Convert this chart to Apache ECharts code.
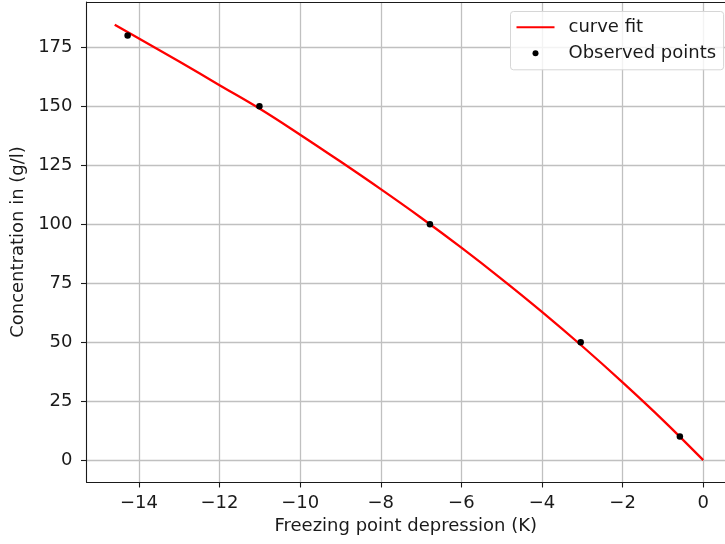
<!DOCTYPE html>
<html>
<head>
<meta charset="utf-8">
<script src="https://cdn.jsdelivr.net/npm/echarts@6/dist/echarts.min.js"></script>
<style>
  html, body { margin: 0; padding: 0; background: #fff; }
  #chart { width: 725px; height: 544px; }
</style>
</head>
<body>
<div id="chart"></div>
<script>
// Fitted curve: freezing point depression (K) vs concentration (g/l)
const fitX = [-14.6, -14, -13, -12, -11, -10, -9, -8, -7, -6, -5, -4, -3, -2, -1, 0];
const fitY = [184.6, 178.8, 169, 159, 149, 138, 126.6, 114.9, 102.8, 90.1, 76.8, 62.9, 48.3, 33, 17, 0];

// Measured samples
const obsX = [-14.28, -11.01, -6.78, -3.04, -0.58];
const obsY = [180, 150, 100, 50, 10];

// Tick positions
const xTicks = [-14, -12, -10, -8, -6, -4, -2, 0];
const yTicks = [0, 25, 50, 75, 100, 125, 150, 175];

const fontFamily = 'DejaVu Sans';
const fontSize = 18;
const textColor = '#1a1a1a';
const gridColor = '#c0c0c0';
const spineColor = '#1a1a1a';

const fmt = v => (v < 0 ? '\u2212' + Math.abs(v) : String(v));

const chart = echarts.init(document.getElementById('chart'), null, { renderer: 'canvas' });

chart.setOption({
  animation: false,
  backgroundColor: '#ffffff',
  textStyle: { fontFamily: fontFamily },
  grid: {
    left: 86.5,
    right: 0,
    top: 2,
    bottom: 62,
    show: false
  },
  legend: {
    orient: 'vertical',
    left: 510.5,
    top: 11.5,
    itemWidth: 38,
    itemHeight: 6,
    itemGap: 8,
    padding: [6.8, 7.5, 7.5, 5],
    backgroundColor: 'rgba(255,255,255,0.8)',
    borderColor: '#d6d6d6',
    borderWidth: 1,
    borderRadius: 3,
    textStyle: {
      fontFamily: fontFamily,
      fontSize: fontSize,
      color: textColor,
      padding: [0, 0, 0, 9]
    },
    data: [
      { name: 'curve fit', itemStyle: { opacity: 0 } },
      { name: 'Observed points', icon: 'circle' }
    ]
  },
  xAxis: [
    {
      type: 'value',
      min: -15.3,
      max: 0.54,
      name: 'Freezing point depression (K)',
      nameLocation: 'middle',
      nameGap: 35,
      nameTextStyle: { fontFamily: fontFamily, fontSize: fontSize, color: textColor },
      axisLine: { show: true, onZero: false, lineStyle: { color: spineColor, width: 1.1 } },
      axisTick: {
        show: true, inside: false, length: 5.5,
        customValues: xTicks,
        lineStyle: { color: spineColor, width: 1.1 }
      },
      axisLabel: {
        customValues: xTicks,
        formatter: fmt,
        margin: 12,
        fontFamily: fontFamily,
        fontSize: fontSize,
        color: textColor
      },
      splitLine: { show: true, lineStyle: { color: gridColor, width: 1.3 } }
    },
    {
      // top spine only
      type: 'value',
      position: 'top',
      min: -15.3,
      max: 0.54,
      axisLine: { show: true, onZero: false, lineStyle: { color: spineColor, width: 1.1 } },
      axisTick: { show: false },
      axisLabel: { show: false },
      splitLine: { show: false }
    }
  ],
  yAxis: {
    type: 'value',
    min: -9.25,
    max: 194.25,
    name: 'Concentration in (g/l)',
    nameLocation: 'middle',
    nameGap: 56,
    nameTextStyle: { fontFamily: fontFamily, fontSize: fontSize, color: textColor },
    axisLine: { show: true, onZero: false, lineStyle: { color: spineColor, width: 1.1 } },
    axisTick: {
      show: true, inside: false, length: 5.5,
      customValues: yTicks,
      lineStyle: { color: spineColor, width: 1.1 }
    },
    axisLabel: {
      customValues: yTicks,
      formatter: fmt,
      margin: 14,
      fontFamily: fontFamily,
      fontSize: fontSize,
      color: textColor
    },
    splitLine: { show: true, lineStyle: { color: gridColor, width: 1.3 } }
  },
  series: [
    {
      name: 'curve fit',
      type: 'line',
      xAxisIndex: 0,
      data: fitX.map((x, i) => [x, fitY[i]]),
      smooth: 0.4,
      showSymbol: false,
      symbol: 'none',
      lineStyle: { color: '#ff0000', width: 2.3 },
      itemStyle: { color: '#ff0000' },
      z: 3
    },
    {
      name: 'Observed points',
      type: 'scatter',
      xAxisIndex: 0,
      data: obsX.map((x, i) => [x, obsY[i]]),
      symbol: 'circle',
      symbolSize: 6.5,
      itemStyle: { color: '#000000', opacity: 1 },
      z: 4
    }
  ]
});
</script>
</body>
</html>
